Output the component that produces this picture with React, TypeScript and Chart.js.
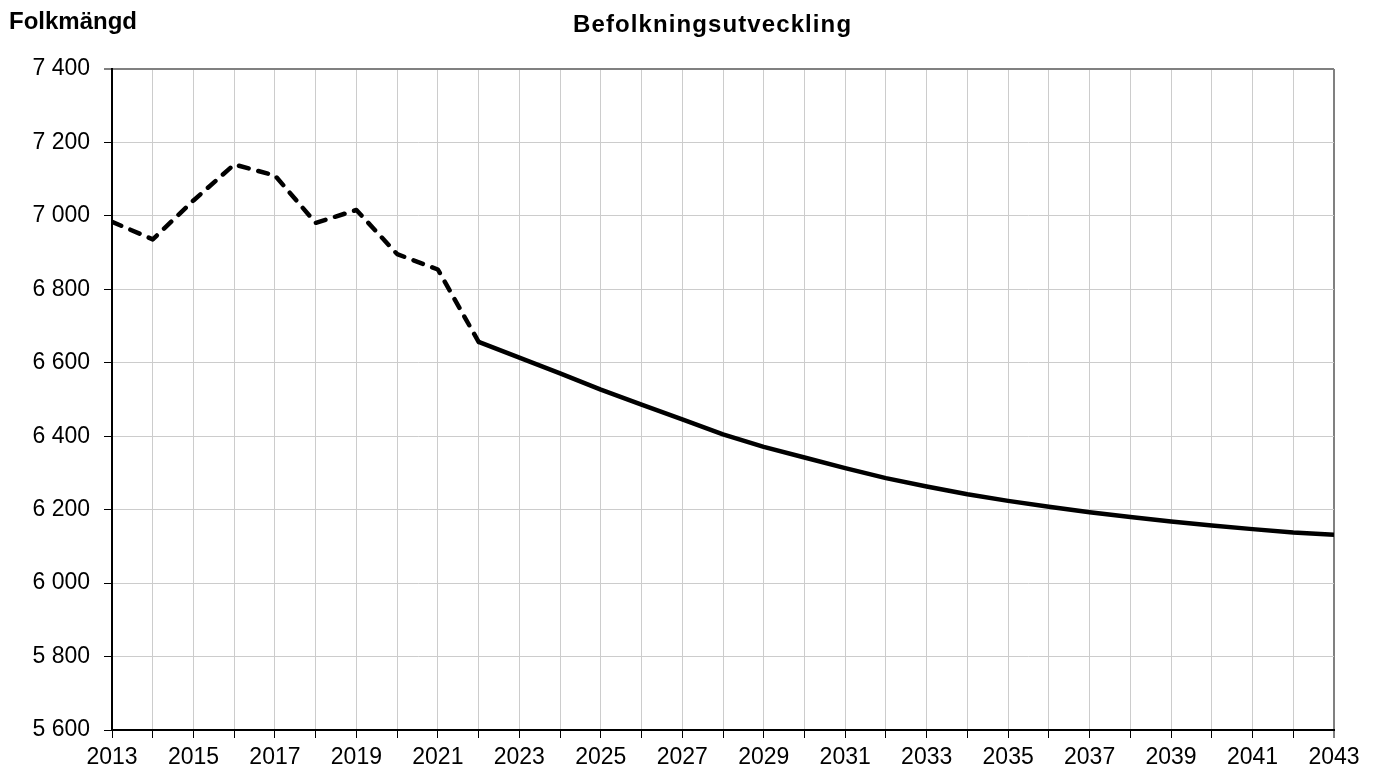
import React, { useEffect, useRef } from "react";
import { Chart, registerables } from "chart.js";

Chart.register(...registerables);

// ---- Data ----
const histYears = [2013, 2014, 2015, 2016, 2017, 2018, 2019, 2020, 2021, 2022];
const histValues = [6984, 6936, 7042, 7140, 7110, 6981, 7016, 6896, 6854, 6657];

const projYears = [
  2022, 2023, 2024, 2025, 2026, 2027, 2028, 2029, 2030, 2031, 2032,
  2033, 2034, 2035, 2036, 2037, 2038, 2039, 2040, 2041, 2042, 2043,
];
const projValues = [
  6657, 6614, 6571, 6527, 6486, 6446, 6405, 6371, 6342, 6313, 6286,
  6263, 6242, 6224, 6208, 6193, 6180, 6168, 6157, 6147, 6138, 6132,
];

const titleText = "Befolkningsutveckling";
const yAxisTitle = "Folkmängd";
const xMin = 2013;
const xMax = 2043;
const yMin = 5600;
const yMax = 7400;
const yStep = 200;

const FONT = "'Liberation Sans', Arial, sans-serif";

const fmt = (v: number) =>
  String(Math.round(v)).replace(/\B(?=(\d{3})+(?!\d))/g, " ");

const textPlugin = {
  id: "customTexts",
  afterDraw(chart: any) {
    const ctx = chart.ctx as CanvasRenderingContext2D;
    ctx.save();
    ctx.fillStyle = "#000";
    ctx.textBaseline = "alphabetic";
    ctx.textAlign = "left";
    ctx.font = `bold 24px ${FONT}`;
    (ctx as any).letterSpacing = "1.1px";
    ctx.fillText(titleText, 573, 32);
    (ctx as any).letterSpacing = "0px";
    ctx.fillText(yAxisTitle, 9, 28.5);
    ctx.restore();
  },
};

export default function App() {
  const ref = useRef<HTMLCanvasElement | null>(null);

  useEffect(() => {
    if (!ref.current) return;
    const chart = new Chart(ref.current, {
      type: "line",
      data: {
        datasets: [
          {
            label: "Historik",
            data: histYears.map((x, i) => ({ x, y: histValues[i] })),
            borderColor: "#000",
            borderWidth: 4.5,
            borderDash: [10, 10],
            borderCapStyle: "round",
            borderJoinStyle: "round",
            pointRadius: 0,
            fill: false,
            tension: 0,
          },
          {
            label: "Prognos",
            data: projYears.map((x, i) => ({ x, y: projValues[i] })),
            borderColor: "#000",
            borderWidth: 4.5,
            borderJoinStyle: "round",
            pointRadius: 0,
            fill: false,
            tension: 0,
          },
        ],
      },
      options: {
        animation: false,
        responsive: false,
        events: [],
        layout: { padding: { left: 0, top: 69, right: 43, bottom: 0 } },
        plugins: {
          legend: { display: false },
          title: { display: false },
          tooltip: { enabled: false },
        },
        scales: {
          x: {
            type: "linear",
            min: xMin,
            max: xMax,
            afterFit: (s: any) => {
              s.height = 41;
            },
            ticks: {
              stepSize: 1,
              autoSkip: false,
              maxRotation: 0,
              padding: 6,
              color: "#000",
              font: { family: FONT, size: 23 },
              callback: (v: any) =>
                (Number(v) - xMin) % 2 === 0 ? String(v) : "",
            },
            grid: {
              color: (c: any) =>
                c.tick && c.tick.value === xMax ? "#808080" : "#cccccc",
              lineWidth: (c: any) =>
                c.tick && c.tick.value === xMax ? 2 : 1,
              tickColor: "#000",
              tickWidth: 1,
              tickLength: 8,
              drawTicks: true,
            },
            border: { display: true, color: "#000", width: 2 },
          },
          y: {
            type: "linear",
            min: yMin,
            max: yMax,
            afterFit: (s: any) => {
              s.width = 112;
            },
            ticks: {
              stepSize: yStep,
              padding: 14,
              color: "#000",
              font: { family: FONT, size: 23 },
              callback: (v: any) => fmt(Number(v)),
            },
            grid: {
              color: (c: any) =>
                c.tick && c.tick.value === yMax ? "#808080" : "#cccccc",
              lineWidth: (c: any) =>
                c.tick && c.tick.value === yMax ? 2 : 1,
              tickColor: "#000",
              tickWidth: 1,
              tickLength: 8,
              drawTicks: true,
            },
            border: { display: true, color: "#000", width: 2 },
          },
        },
      },
      plugins: [textPlugin],
    });
    return () => chart.destroy();
  }, []);

  return (
    <div
      style={{
        position: "absolute",
        left: 0,
        top: 0,
        width: 1377,
        height: 771,
        background: "#fff",
      }}
    >
      <canvas
        ref={ref}
        width={1377}
        height={771}
        style={{ display: "block", width: 1377, height: 771 }}
      />
    </div>
  );
}
